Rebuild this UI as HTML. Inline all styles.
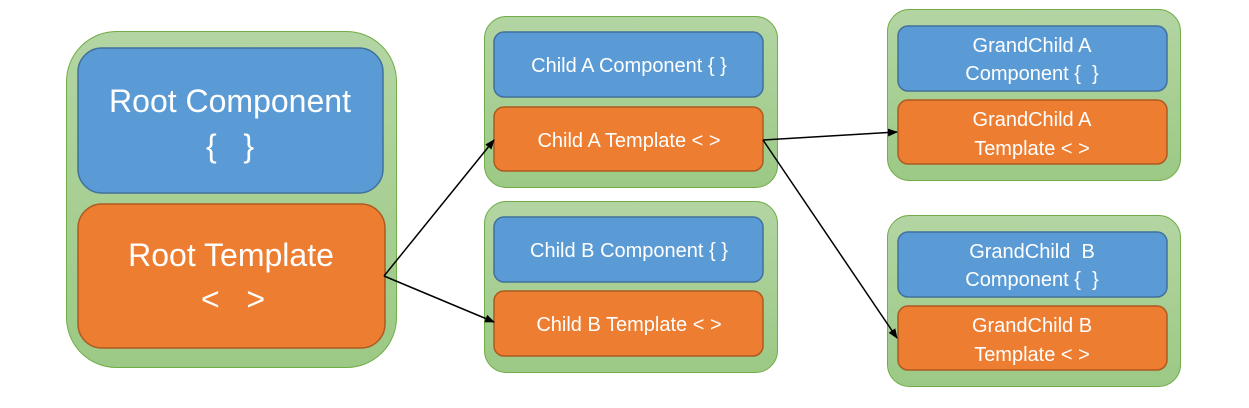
<!DOCTYPE html>
<html><head><style>body{margin:0;background:#fff}svg{display:block}text{white-space:pre}</style></head><body>
<svg width="1249" height="408" viewBox="0 0 1249 408" xmlns="http://www.w3.org/2000/svg" font-family="Liberation Sans, sans-serif" xml:space="preserve">
<defs>
<linearGradient id="g" x1="0" y1="0" x2="0" y2="1"><stop offset="0" stop-color="#b3d5a3"/><stop offset="1" stop-color="#9cc985"/></linearGradient>
<marker id="a" markerWidth="10" markerHeight="8" refX="9" refY="4" orient="auto" markerUnits="userSpaceOnUse"><path d="M0,0L10,4L0,8z" fill="#000"/></marker>
</defs>
<g stroke="#71ad47" stroke-width="1" fill="url(#g)">
<rect x="66.5" y="31.5" width="330" height="336" rx="50"/>
<rect x="484.5" y="16.5" width="293" height="171" rx="22"/>
<rect x="484.5" y="201.5" width="293" height="171" rx="22"/>
<rect x="887.5" y="9.5" width="293" height="171" rx="22"/>
<rect x="887.5" y="215.5" width="293" height="171" rx="22"/>
</g>
<g stroke="#41719c" stroke-width="1.5" fill="#5b9bd5">
<rect x="78" y="48" width="305" height="145" rx="24"/>
<rect x="494" y="32" width="269" height="65" rx="10"/>
<rect x="494" y="217" width="269" height="65" rx="10"/>
<rect x="898" y="26" width="269" height="65" rx="10"/>
<rect x="898" y="232" width="269" height="65" rx="10"/>
</g>
<g stroke="#ae5a21" stroke-width="1.5" fill="#ed7d31">
<rect x="78" y="204" width="307" height="144" rx="24"/>
<rect x="494" y="107" width="269" height="64" rx="10"/>
<rect x="494" y="291" width="269" height="65" rx="10"/>
<rect x="898" y="100" width="269" height="64" rx="10"/>
<rect x="898" y="306" width="269" height="64" rx="10"/>
</g>
<g stroke="#000" stroke-width="1.5" marker-end="url(#a)">
<line x1="384" y1="276" x2="494" y2="140"/>
<line x1="384" y1="276" x2="494" y2="322"/>
<line x1="763" y1="140" x2="897" y2="132"/>
<line x1="763" y1="140" x2="897" y2="338"/>
</g>
<g fill="#fff" text-anchor="middle">
<text x="230" y="112" font-size="32">Root Component</text>
<text x="230" y="157" font-size="32">{   }</text>
<text x="231" y="266" font-size="32">Root Template</text>
<text x="233" y="310" font-size="32">&lt;   &gt;</text>
<g font-size="20">
<text x="629" y="72">Child A Component { }</text>
<text x="629" y="147">Child A Template &lt; &gt;</text>
<text x="629" y="257">Child B Component { }</text>
<text x="629" y="331">Child B Template &lt; &gt;</text>
<text x="1032" y="52">GrandChild A</text>
<text x="1032" y="80">Component {  }</text>
<text x="1032" y="126">GrandChild A</text>
<text x="1032" y="155">Template &lt; &gt;</text>
<text x="1032" y="258">GrandChild  B</text>
<text x="1032" y="286">Component {  }</text>
<text x="1032" y="332">GrandChild B</text>
<text x="1032" y="361">Template &lt; &gt;</text>
</g>
</g>
</svg>
</body></html>
